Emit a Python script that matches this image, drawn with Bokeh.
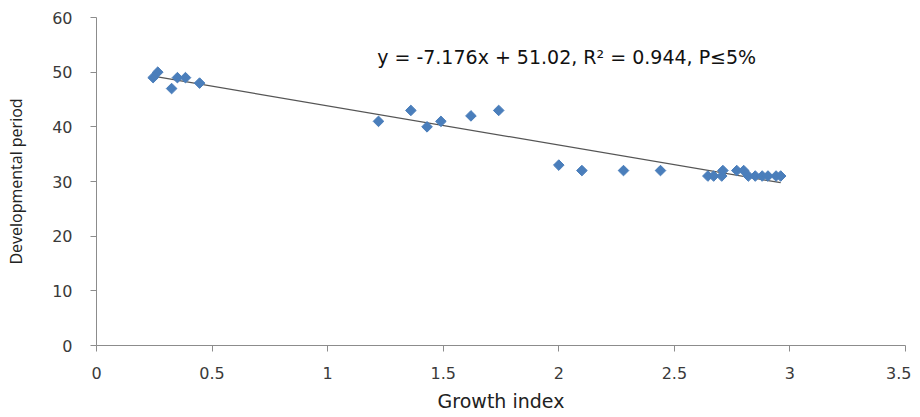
import math
from bokeh.plotting import figure
from bokeh.models import Range1d, FixedTicker, ColumnDataSource, Label
from bokeh.embed import file_html
from bokeh.resources import INLINE

growth_index = [0.245, 0.265, 0.325, 0.35, 0.385, 0.446,
                1.22, 1.36, 1.43, 1.49, 1.62, 1.74,
                2.00, 2.10, 2.28, 2.44,
                2.645, 2.67, 2.705, 2.71, 2.77, 2.80, 2.82, 2.85, 2.88, 2.905, 2.94, 2.96]
dev_period = [49, 50, 47, 49, 49, 48,
              41, 43, 40, 41, 42, 43,
              33, 32, 32, 32,
              31, 31, 31, 32, 32, 32, 31, 31, 31, 31, 31, 31]

slope = -7.176
intercept = 51.02
equation_text = "y = -7.176x + 51.02, R\u00b2 = 0.944, P\u22645%"

x_ticks = [0, 0.5, 1, 1.5, 2, 2.5, 3, 3.5]
x_tick_labels = ["0", "0.5", "1", "1.5", "2", "2.5", "3", "3.5"]
y_ticks = [0, 10, 20, 30, 40, 50, 60]

p = figure(width=911, height=416, output_backend="svg", toolbar_location=None,
           x_range=Range1d(0, 3.5), y_range=Range1d(0, 60),
           min_border_left=96, min_border_right=6, min_border_top=17, min_border_bottom=71)
p.outline_line_color = None
p.xgrid.visible = False
p.ygrid.visible = False

# trendline
xmin, xmax = min(growth_index), max(growth_index)
trend_src = ColumnDataSource(dict(x=[xmin, xmax], y=[slope * xmin + intercept, slope * xmax + intercept]))
p.line("x", "y", source=trend_src, line_color="#555555", line_width=1.2)

src = ColumnDataSource(dict(x=growth_index, y=dev_period))
p.scatter("x", "y", source=src, marker="square", angle=math.pi / 4, size=7.5,
          fill_color="#4A7EBB", line_color="#4A7EBB")

p.add_layout(Label(x=2.034, y=52.7, text=equation_text, text_font="DejaVu Sans",
                   text_font_size="19px", text_color="#111111", text_align="center",
                   text_baseline="middle"))

for ax in (p.xaxis[0], p.yaxis[0]):
    ax.axis_line_color = "#8C8C8C"
    ax.major_tick_line_color = "#8C8C8C"
    ax.minor_tick_line_color = None
    ax.major_tick_in = 0
    ax.major_tick_out = 6
    ax.major_label_text_font = "DejaVu Sans"
    ax.major_label_text_font_size = "16px"
    ax.major_label_text_color = "#3A3A3A"
    ax.axis_label_text_font_style = "normal"
    ax.axis_label_text_color = "#222222"

p.xaxis[0].ticker = FixedTicker(ticks=x_ticks)
p.xaxis[0].major_label_overrides = {t: l for t, l in zip(x_ticks, x_tick_labels)}
p.xaxis[0].major_label_standoff = 15
p.xaxis[0].axis_label = "Growth index"
p.xaxis[0].axis_label_text_font = "DejaVu Sans"
p.xaxis[0].axis_label_text_font_size = "19px"
p.xaxis[0].axis_label_standoff = 8

p.yaxis[0].ticker = FixedTicker(ticks=y_ticks)
p.yaxis[0].major_label_standoff = 18
p.yaxis[0].axis_label = "Developmental period"
p.yaxis[0].axis_label_text_font = "Open Sans"
p.yaxis[0].axis_label_text_font_size = "16px"
p.yaxis[0].axis_label_standoff = 22

open("out.html", "w").write(file_html(p, INLINE))
